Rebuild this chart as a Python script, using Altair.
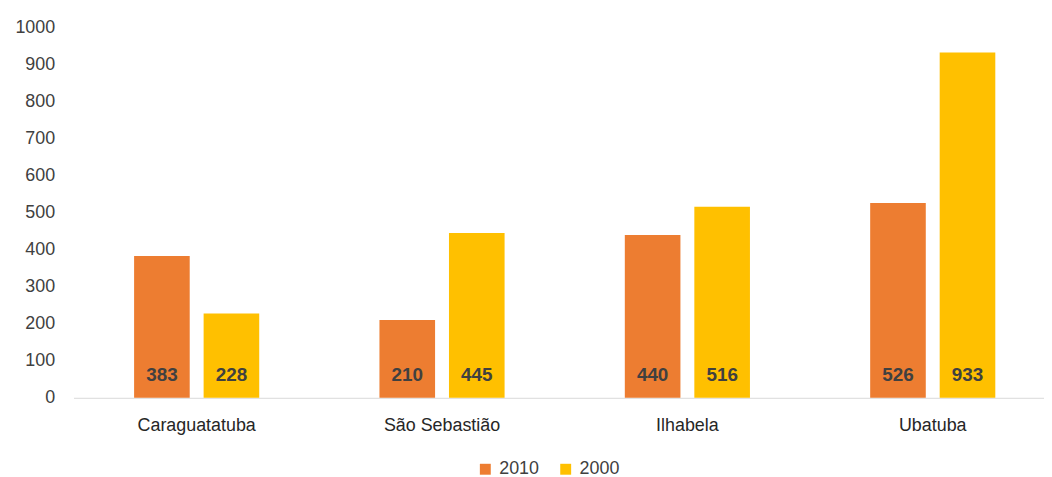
import altair as alt
import pandas as pd

cities = ["Caraguatatuba", "São Sebastião", "Ilhabela", "Ubatuba"]
v2010 = [383, 210, 440, 526]
v2000 = [228, 445, 516, 933]
series = ["2010", "2000"]
colors = ["#ED7D31", "#FFC000"]
yticks = [0, 100, 200, 300, 400, 500, 600, 700, 800, 900, 1000]

rows = []
for c, a, b in zip(cities, v2010, v2000):
    rows.append({"city": c, "year": "2010", "value": a, "zero": 0})
    rows.append({"city": c, "year": "2000", "value": b, "zero": 0})
df = pd.DataFrame(rows)

FONT = "Liberation Sans"

xaxis = alt.Axis(labelAngle=0, ticks=False, domainColor="#D9D9D9", domainWidth=1,
                 labelFontSize=18, labelColor="#262626", labelPadding=19,
                 labelFont=FONT)
xscale = alt.Scale(range=[0, 990], paddingInner=0.49, paddingOuter=0.247)
yaxis = alt.Axis(values=yticks, format="d", labelOverlap=False,
                 grid=False, ticks=False, domain=False,
                 labelFontSize=18, labelColor="#404040", labelPadding=19,
                 labelFont=FONT)
yscale = alt.Scale(domain=[0, 1000])
xo = alt.XOffset("year:N", sort=series, scale=alt.Scale(paddingInner=0.2, paddingOuter=0))

bars = alt.Chart(df).mark_bar().encode(
    x=alt.X("city:N", sort=cities, title=None, scale=xscale, axis=xaxis),
    xOffset=xo,
    y=alt.Y("value:Q", title=None, scale=yscale, axis=yaxis),
    color=alt.Color("year:N", sort=series,
                    scale=alt.Scale(domain=series, range=colors),
                    legend=alt.Legend(title=None, orient="none", direction="horizontal",
                                      legendX=406, legendY=436, symbolType="square",
                                      symbolSize=121, symbolStrokeWidth=0,
                                      labelFontSize=18, labelColor="#404040",
                                      labelOffset=5, padding=0,
                                      labelFont=FONT, columnPadding=17)),
)

labels = alt.Chart(df).mark_text(fontWeight="bold", fontSize=19, color="#404040",
                                 baseline="middle", dy=-23, font=FONT).encode(
    x=alt.X("city:N", sort=cities, title=None, scale=xscale, axis=xaxis),
    xOffset=xo,
    y=alt.Y("zero:Q", title=None, scale=yscale, axis=yaxis),
    text="value:Q",
)

chart = alt.layer(bars, labels).properties(
    width=978, height=373,
    autosize=alt.AutoSizeParams(type="none"),
    padding={"left": 66, "top": 18, "right": 0, "bottom": 78},
).configure_view(stroke=None)

chart.save("out.html", embed_options={"renderer": "svg", "actions": False})
